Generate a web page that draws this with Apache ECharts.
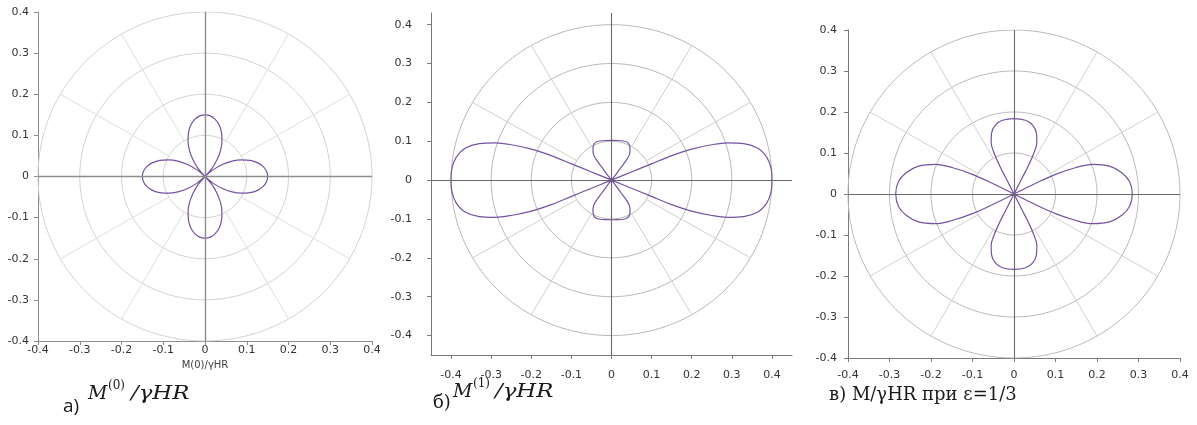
<!DOCTYPE html>
<html>
<head>
<meta charset="utf-8">
<script src="https://cdn.jsdelivr.net/npm/echarts@6/dist/echarts.min.js"></script>
<style>
  html, body { margin: 0; padding: 0; background: #fff; }
  #chart { width: 1197px; height: 425px; }
</style>
</head>
<body>
<div id="chart"></div>
<script>
// Tick labels shared by the three plots
const tickValues = [-0.4, -0.3, -0.2, -0.1, 0, 0.1, 0.2, 0.3, 0.4];
// Polar grid: ring radii and spoke directions (degrees)
const ringRadii = [0.1, 0.2, 0.3, 0.4];
const spokeAngles = [30, 60, 120, 150, 210, 240, 300, 330];

// a) M(0)/γHR, first quadrant: polar angle (deg) and radius
const angleA  = [0, 5, 10, 15, 20, 25, 30, 35, 40, 45, 50, 55, 60, 65, 70, 75, 80, 85, 90];
const radiusA = [0.150, 0.148, 0.141, 0.130, 0.115, 0.096, 0.075, 0.051, 0.026, 0.000,
                 0.026, 0.051, 0.075, 0.096, 0.115, 0.130, 0.141, 0.148, 0.150];

// б) M(1)/γHR, first quadrant
const angleB  = [0, 4.3, 8.5, 12.7, 15.9, 18.3, 20.0, 21.8, 22.8, 22.8, 22.8, 38,
                 53, 54, 54.2, 55.5, 59.5, 63.2, 67.6, 73.5, 81.6, 90];
const radiusB = [0.400, 0.399, 0.392, 0.374, 0.343, 0.305, 0.266, 0.215, 0.163, 0.108, 0.054, 0.000,
                 0.020, 0.041, 0.062, 0.078, 0.091, 0.100, 0.105, 0.105, 0.103, 0.102];

// в) M/γHR at ε = 1/3, first quadrant
const angleC  = [0, 6.2, 11.3, 16.5, 20.9, 23.4, 25.6, 26.6, 45,
                 63.4, 63.4, 64.4, 66.3, 70, 75, 81.2, 90];
const radiusC = [0.285, 0.280, 0.265, 0.240, 0.203, 0.163, 0.111, 0.056, 0.000,
                 0.045, 0.078, 0.111, 0.137, 0.158, 0.174, 0.182, 0.184];

const toXY = (deg, r) => {
  const t = deg * Math.PI / 180;
  return [r * Math.cos(t), r * Math.sin(t)];
};

// Curves are symmetric about both axes: reflect the first quadrant into the others.
function fullCurve(angles, radii) {
  const q1 = angles.map((a, i) => [a, radii[i]]);
  const q2 = q1.slice().reverse().map(([a, r]) => [180 - a, r]);
  const q3 = q1.map(([a, r]) => [180 + a, r]);
  const q4 = q1.slice().reverse().map(([a, r]) => [360 - a, r]);
  let all = [...q1, ...q2.slice(1), ...q3.slice(1), ...q4.slice(1)];
  all.pop(); // 360° repeats 0°
  const k = all.findIndex(p => p[1] === 0);
  all = all.slice(k).concat(all.slice(0, k));
  all.push(all[0]);
  // break the smoothed path at each cusp in the origin
  const pts = [];
  all.forEach(([a, r], i) => {
    if (r === 0) {
      if (i > 0) pts.push([0, 0], [NaN, NaN]);
      if (i < all.length - 1) pts.push([0, 0]);
    } else {
      pts.push(toXY(a, r));
    }
  });
  return pts;
}

function ringData(r) {
  const pts = [];
  for (let d = 0; d <= 360; d += 2) pts.push(toXY(d, r));
  return pts;
}

function spokeData(rIn, rOut) {
  const pts = [];
  spokeAngles.forEach(a => { pts.push(toXY(a, rIn), toXY(a, rOut), [NaN, NaN]); });
  return pts;
}

const fmt = v => (Math.abs(v) < 1e-9 ? '0' : v.toFixed(1));
const labelFont = { fontFamily: 'DejaVu Sans', fontSize: 11, color: '#333333' };

const panels = [
  { left: 38, top: 12, width: 334, height: 329, xr: [-0.4, 0.4], yr: [-0.4, 0.4],
    xMargin: 4, yMargin: 9, axisColor: '#8c8c8c', crossColor: '#8c8c8c', crossWidth: 1.4,
    ringColor: '#d2d2d2', spokeColor: '#dedede', angles: angleA, radii: radiusA, custom: false },
  { left: 431, top: 13, width: 361, height: 342, xr: [-0.45, 0.45], yr: [-0.45, 0.43],
    xMargin: 15, yMargin: 19, axisColor: '#7a7a7a', crossColor: '#6a6a6a', crossWidth: 1.1,
    ringColor: '#b8b8b8', spokeColor: '#d0d0d0', angles: angleB, radii: radiusB, custom: true },
  { left: 848, top: 30, width: 332, height: 328, xr: [-0.4, 0.4], yr: [-0.4, 0.4],
    xMargin: 12, yMargin: 11, axisColor: '#7a7a7a', crossColor: '#6a6a6a', crossWidth: 1.1,
    ringColor: '#bababa', spokeColor: '#d2d2d2', angles: angleC, radii: radiusC, custom: true }
];

function axis(p, i, range, margin) {
  const a = {
    gridIndex: i, type: 'value', min: range[0], max: range[1],
    axisLine: { show: true, onZero: false, lineStyle: { color: p.axisColor, width: 1 } },
    axisTick: { show: true, length: 4, lineStyle: { color: p.axisColor } },
    axisLabel: Object.assign({ margin: margin, formatter: fmt }, labelFont),
    splitLine: { show: false }
  };
  if (p.custom) {
    a.axisTick.customValues = tickValues;
    a.axisLabel.customValues = tickValues;
  } else {
    a.interval = 0.1;
  }
  return a;
}

const grid = [], xAxis = [], yAxis = [], series = [];
panels.forEach((p, i) => {
  grid.push({ left: p.left, top: p.top, width: p.width, height: p.height });
  xAxis.push(axis(p, i, p.xr, p.xMargin));
  yAxis.push(axis(p, i, p.yr, p.yMargin));
  ringRadii.forEach(r => series.push({
    type: 'line', xAxisIndex: i, yAxisIndex: i, data: ringData(r), showSymbol: false,
    silent: true, z: 1, lineStyle: { color: p.ringColor, width: 1 }
  }));
  series.push({
    type: 'line', xAxisIndex: i, yAxisIndex: i, data: spokeData(ringRadii[0], ringRadii[3]),
    showSymbol: false, silent: true, z: 2, lineStyle: { color: p.spokeColor, width: 1 },
    markLine: {
      silent: true, symbol: ['none', 'none'], label: { show: false },
      lineStyle: { type: 'solid', color: p.crossColor, width: p.crossWidth },
      data: [{ xAxis: 0 }, { yAxis: 0 }]
    }
  });
  series.push({
    type: 'line', xAxisIndex: i, yAxisIndex: i, data: fullCurve(p.angles, p.radii),
    showSymbol: false, smooth: 0.35, connectNulls: false, silent: true, z: 3,
    lineStyle: { color: '#7552a0', width: 1.2 }
  });
});

const serif = 'DejaVu Serif';
const txt = (x, y, text, font, extra) => Object.assign({
  type: 'text', x: x, y: y, silent: true,
  style: { text: text, font: font, fill: '#1a1a1a', align: 'left', verticalAlign: 'middle' }
}, extra || {});

const graphic = [
  { type: 'text', x: 205, y: 365, silent: true,
    style: { text: 'M(0)/γHR', font: '10px "DejaVu Sans"', fill: '#404040', align: 'center', verticalAlign: 'middle' } },
  // а) M^(0)/γHR
  txt(63, 407, 'a)', '19px "Open Sans"'),
  txt(88, 394.5, 'M', 'italic 19px ' + serif),
  txt(108, 386, '(0)', '12px ' + serif),
  txt(131, 394.5, '/γHR', 'italic 19px ' + serif, { scaleX: 1.2 }),
  // б) M^(1)/γHR
  txt(433, 403, 'б)', '18px ' + serif),
  txt(453, 392.5, 'M', 'italic 19px ' + serif),
  txt(473, 384, '(1)', '12px ' + serif),
  txt(495, 392.5, '/γHR', 'italic 19px ' + serif, { scaleX: 1.2 }),
  // в) M/γHR при ε=1/3
  txt(829, 395, 'в) M/γHR при ε=1/3', '18px ' + serif)
];

const chart = echarts.init(document.getElementById('chart'), null, { renderer: 'canvas' });
chart.setOption({
  animation: false,
  backgroundColor: '#ffffff',
  grid: grid,
  xAxis: xAxis,
  yAxis: yAxis,
  series: series,
  graphic: graphic
});
</script>
</body>
</html>
